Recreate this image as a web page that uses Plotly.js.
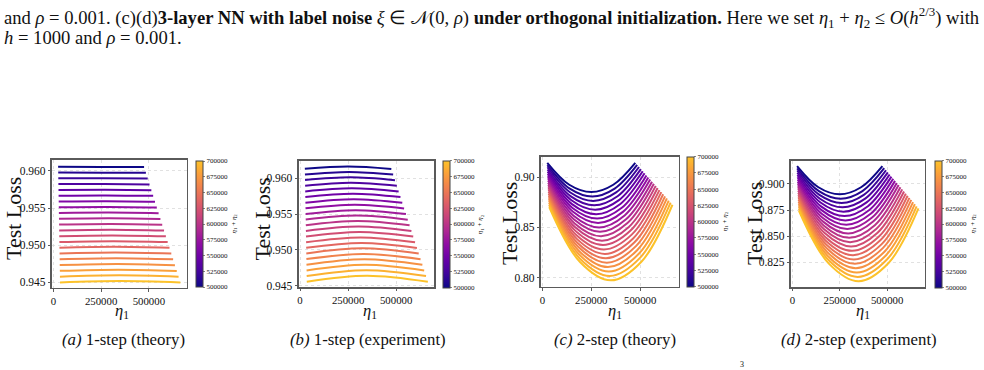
<!DOCTYPE html>
<html><head><meta charset="utf-8">
<script src="https://cdn.plot.ly/plotly-3.0.1.min.js"></script>
<style>html,body{margin:0;padding:0;background:#fff;}#chart{width:984px;height:370px;}</style>
</head><body><div id="chart"></div>
<script>
// ---------- data ----------
const totals = [500000,510000,520000,530000,540000,550000,560000,570000,580000,590000,600000,
                610000,620000,630000,640000,650000,660000,670000,680000,690000,700000];
const fracs3 = [0.05, 0.5, 0.95];            // eta1 / (eta1+eta2) sample points (1-step panels)
const fracs5 = [0.05, 0.275, 0.5, 0.725, 0.95]; // sample points (2-step panels)

const lossA = [
 [0.96054,0.96052,0.96050],[0.95976,0.95975,0.95972],[0.95899,0.95899,0.95895],[0.95821,0.95822,0.95817],
 [0.95743,0.95745,0.95740],[0.95666,0.95669,0.95663],[0.95588,0.95592,0.95585],[0.95510,0.95515,0.95507],
 [0.95432,0.95438,0.95430],[0.95355,0.95362,0.95353],[0.95277,0.95285,0.95275],[0.95199,0.95208,0.95197],
 [0.95122,0.95132,0.95120],[0.95044,0.95055,0.95043],[0.94966,0.94978,0.94965],[0.94889,0.94902,0.94888],
 [0.94811,0.94825,0.94810],[0.94733,0.94748,0.94732],[0.94656,0.94672,0.94655],[0.94578,0.94595,0.94578],
 [0.94500,0.94518,0.94500]];

const lossB = [
 [0.96130,0.96163,0.96129],[0.96051,0.96087,0.96050],[0.95973,0.96011,0.95972],[0.95894,0.95935,0.95893],
 [0.95815,0.95858,0.95814],[0.95737,0.95783,0.95736],[0.95658,0.95706,0.95657],[0.95579,0.95630,0.95578],
 [0.95500,0.95553,0.95499],[0.95422,0.95478,0.95421],[0.95343,0.95401,0.95342],[0.95264,0.95325,0.95263],
 [0.95186,0.95249,0.95185],[0.95107,0.95173,0.95106],[0.95028,0.95096,0.95027],[0.94950,0.95021,0.94949],
 [0.94871,0.94944,0.94870],[0.94792,0.94868,0.94791],[0.94713,0.94791,0.94712],[0.94635,0.94716,0.94634],
 [0.94556,0.94639,0.94555]];

const lossC = [
 [0.9142,0.89238,0.8851,0.89238,0.9142],[0.9120,0.88853,0.88071,0.88856,0.91212],
 [0.9098,0.88469,0.87632,0.88475,0.91003],[0.9076,0.88085,0.87193,0.88094,0.90795],
 [0.9054,0.87701,0.86754,0.87712,0.90586],[0.9032,0.87316,0.86315,0.87331,0.90378],
 [0.9010,0.86932,0.85876,0.86949,0.90169],[0.8988,0.86548,0.85437,0.86568,0.89961],
 [0.8966,0.86164,0.84998,0.86187,0.89752],[0.8944,0.85779,0.84559,0.85805,0.89544],
 [0.8922,0.85395,0.84120,0.85424,0.89335],[0.8900,0.85011,0.83681,0.85043,0.89127],
 [0.8878,0.84627,0.83242,0.84661,0.88918],[0.8856,0.84242,0.82803,0.84280,0.88710],
 [0.8834,0.83858,0.82364,0.83898,0.88501],[0.8812,0.83474,0.81925,0.83517,0.88293],
 [0.8790,0.83090,0.81486,0.83136,0.88084],[0.8768,0.82705,0.81047,0.82754,0.87876],
 [0.8746,0.82321,0.80608,0.82373,0.87667],[0.8724,0.81937,0.80169,0.81992,0.87459],
 [0.8702,0.81553,0.79730,0.81610,0.87250]];

const lossD = [
 [0.9172,0.89688,0.8901,0.89688,0.9172],[0.91506,0.89322,0.88594,0.89325,0.91517],
 [0.91292,0.88957,0.88178,0.88962,0.91314],[0.91078,0.88591,0.87762,0.88599,0.91111],
 [0.90864,0.88226,0.87346,0.88237,0.90908],[0.9065,0.8786,0.8693,0.87874,0.90705],
 [0.90436,0.87495,0.86514,0.87511,0.90502],[0.90222,0.87129,0.86098,0.87148,0.90299],
 [0.90008,0.86764,0.85682,0.86786,0.90096],[0.89794,0.86398,0.85266,0.86423,0.89893],
 [0.8958,0.86033,0.8485,0.8606,0.8969],[0.89366,0.85667,0.84434,0.85697,0.89487],
 [0.89152,0.85302,0.84018,0.85335,0.89284],[0.88938,0.84936,0.83602,0.84972,0.89081],
 [0.88724,0.84571,0.83186,0.84609,0.88878],[0.8851,0.84205,0.8277,0.84246,0.88675],
 [0.88296,0.8384,0.82354,0.83884,0.88472],[0.88082,0.83474,0.81938,0.83521,0.88269],
 [0.87868,0.83109,0.81522,0.83158,0.88066],[0.87654,0.82743,0.81106,0.82795,0.87863],
 [0.8744,0.82378,0.8069,0.82433,0.8766]];

const xTickVals = [0, 250000, 500000];
const yTicksAB = [0.945, 0.950, 0.955, 0.960];
const yTicksC = [0.80, 0.85, 0.90];
const yTicksD = [0.825, 0.850, 0.875, 0.900];
const cbTicks = [500000,525000,550000,575000,600000,625000,650000,675000,700000];
const captions = ['<i>(a)</i> 1-step (theory)','<i>(b)</i> 1-step (experiment)','<i>(c)</i> 2-step (theory)','<i>(d)</i> 2-step (experiment)'];

// ---------- style ----------
const W = 984, H = 370;
const FONT = "'Liberation Serif', 'Times New Roman', serif";
const plasmaStops = ['#0d0887','#41049d','#6a00a8','#8f0da4','#b12a90','#cc4778','#e16462','#f2844b','#fca636','#fcce25','#f0f921'];
const cmapTop = 0.87;
function hex2rgb(h){return [parseInt(h.slice(1,3),16),parseInt(h.slice(3,5),16),parseInt(h.slice(5,7),16)];}
function plasma(t){
  t=Math.max(0,Math.min(1,t)); const p=t*10; const i=Math.min(9,Math.floor(p)); const f=p-i;
  const a=hex2rgb(plasmaStops[i]), b=hex2rgb(plasmaStops[i+1]);
  return 'rgb('+a.map((v,j)=>Math.round(v+(b[j]-v)*f)).join(',')+')';
}
const cmin = totals[0], cmax = totals[totals.length-1];
const colorscale = Array.from({length:21},(_,i)=>[i/20, plasma(i/20*cmapTop)]);
const lineColor = T => plasma((T-cmin)/(cmax-cmin)*cmapTop);

const px = v => v/W, py = v => 1 - v/H;

const panels = [
 {loss:lossA, fr:fracs3, box:[52,186.5,159.7,287.5], yr:[0.94432,0.96149], yt:yTicksAB, yf:'.3f', cb:[196,161,287],
  ylab:[14,219], xlab:[122,311], cap:124},
 {loss:lossB, fr:fracs3, box:[298.7,434,160.5,287.3], yr:[0.94478,0.96246], yt:yTicksAB, yf:'.3f', cb:[442.7,160.7,287.3],
  ylab:[262.5,219], xlab:[369.5,311], cap:368},
 {loss:lossC, fr:fracs5, box:[541,678.7,157,286.8], yr:[0.7909,0.9200], yt:yTicksC, yf:'.2f', cb:[687,156.5,286.8],
  ylab:[509,224], xlab:[615,311], cap:615},
 {loss:lossD, fr:fracs5, box:[791,924.5,160.7,287.3], yr:[0.8011,0.9223], yt:yTicksD, yf:'.3f', cb:[935,160.7,287.3],
  ylab:[754,224], xlab:[863,311], cap:859}
];

const traces = [];
const layout = {
  width: W, height: H, margin:{l:0,r:0,t:0,b:0}, paper_bgcolor:'#fff', plot_bgcolor:'#fff',
  showlegend:false, font:{family:FONT, color:'#111', size:11}, annotations:[], hovermode:false
};

panels.forEach((p, idx) => {
  const n = idx === 0 ? '' : String(idx+1);
  const xa = 'x'+n, ya = 'y'+n;
  const axCommon = {
    showline:true, mirror:true, linecolor:'#5a5a5a', linewidth:1.6,
    ticks:'outside', ticklen:2.5, tickwidth:0.8, tickcolor:'#333',
    showgrid:true, gridcolor:'#d4d4d4', gridwidth:0.7, griddash:'dot', zeroline:false,
    tickfont:{family:FONT, size:11.5, color:'#111'}
  };
  layout['xaxis'+n] = Object.assign({}, axCommon, {
    domain:[px(p.box[0]), px(p.box[1])], anchor:ya, range:[-7000, 697000],
    tickvals:xTickVals, ticktext:xTickVals.map(String), tickfont:{family:FONT, size:10.8, color:'#111'}
  });
  layout['yaxis'+n] = Object.assign({}, axCommon, {
    domain:[py(p.box[3]), py(p.box[2])], anchor:xa, range:p.yr,
    tickvals:p.yt, tickformat:p.yf
  });
  p.loss.forEach((row, k) => {
    traces.push({
      type:'scatter', mode:'lines', xaxis:xa, yaxis:ya,
      x: p.fr.map(f => f*totals[k]), y: row,
      line:{color:lineColor(totals[k]), width:2, shape:'spline', smoothing:1},
      hoverinfo:'skip'
    });
  });
  // invisible carrier for the colorbar
  traces.push({
    type:'scatter', mode:'markers', xaxis:xa, yaxis:ya,
    x:[p.fr[1]*totals[0]], y:[p.loss[0][1]],
    marker:{size:1, opacity:0, color:[totals[0]], cmin:cmin, cmax:cmax, colorscale:colorscale, showscale:true,
      colorbar:{x:px(p.cb[0]), xanchor:'left', y:py((p.cb[1]+p.cb[2])/2), yanchor:'middle',
        len:p.cb[2]-p.cb[1], lenmode:'pixels', thickness:7, thicknessmode:'pixels', xpad:0, ypad:0,
        outlinewidth:1, outlinecolor:'#444', borderwidth:0,
        tickvals:cbTicks, ticktext:cbTicks.map(String), ticks:'outside', ticklen:2, tickwidth:0.6, tickcolor:'#333',
        tickfont:{family:FONT, size:7, color:'#111'}}},
    hoverinfo:'skip'
  });
  const A = layout.annotations;
  A.push({xref:'paper', yref:'paper', x:px(p.ylab[0]), y:py(p.ylab[1]), text:'Test Loss', textangle:-90,
          showarrow:false, xanchor:'center', yanchor:'middle', font:{family:FONT, size:22, color:'#111'}});
  A.push({xref:'paper', yref:'paper', x:px(p.xlab[0]), y:py(p.xlab[1]), text:'<i>η</i><sub>1</sub>',
          showarrow:false, xanchor:'center', yanchor:'middle', font:{family:FONT, size:16.5, color:'#111'}});
  A.push({xref:'paper', yref:'paper', x:px(p.cb[0]+37.5), y:py((p.cb[1]+p.cb[2])/2), text:'<i>η</i><sub>1</sub> + <i>η</i><sub>2</sub>',
          textangle:-90, showarrow:false, xanchor:'center', yanchor:'middle', font:{family:FONT, size:7, color:'#111'}});
  A.push({xref:'paper', yref:'paper', x:px(p.cap), y:py(339), text:captions[idx],
          showarrow:false, xanchor:'center', yanchor:'middle', font:{family:FONT, size:16.8, color:'#111'}});
});

// caption text of the paper above the figure
layout.annotations.push({xref:'paper', yref:'paper', x:px(2), y:py(18), xanchor:'left', yanchor:'middle', showarrow:false,
  text:'and <i>ρ</i> = 0.001. (c)(d)<b>3-layer NN with label noise</b> <i>ξ</i> ∈ 𝒩(0, <i>ρ</i>) <b>under orthogonal initialization.</b> Here we set <i>η</i><sub>1</sub> + <i>η</i><sub>2</sub> ≤ <i>O</i>(<i>h</i><sup>2/3</sup>) with',
  font:{family:FONT, size:18.6, color:'#111'}});
layout.annotations.push({xref:'paper', yref:'paper', x:px(2), y:py(37.5), xanchor:'left', yanchor:'middle', showarrow:false,
  text:'<i>h</i> = 1000 and <i>ρ</i> = 0.001.', font:{family:FONT, size:18.6, color:'#111'}});
layout.annotations.push({xref:'paper', yref:'paper', x:px(742), y:py(364), xanchor:'center', yanchor:'middle', showarrow:false,
  text:'3', font:{family:FONT, size:8, color:'#111'}});

Plotly.newPlot('chart', traces, layout, {displayModeBar:false, staticPlot:true});
</script></body></html>
